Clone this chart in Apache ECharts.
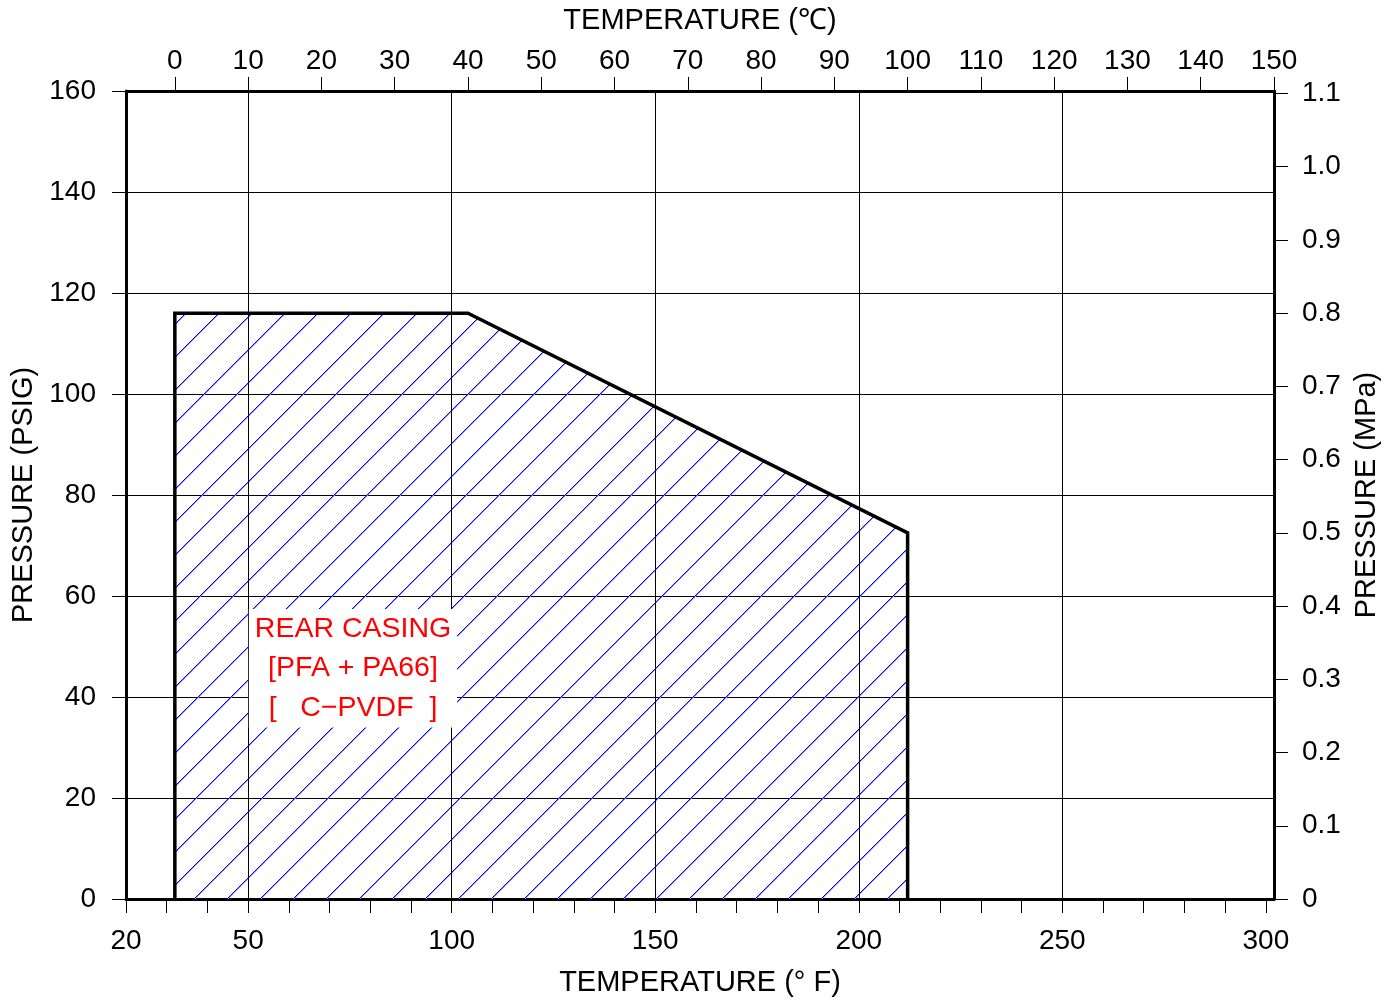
<!DOCTYPE html>
<html>
<head>
<meta charset="utf-8">
<script src="https://cdn.jsdelivr.net/npm/echarts@6/dist/echarts.min.js"></script>
<style>
html,body{margin:0;padding:0;background:#fff;}
#chart{width:1399px;height:1000px;}
</style>
</head>
<body>
<div id="chart"></div>
<script>
// ---- data ----
var tempF = [32, 32, 104, 212, 212];           // °F
var pressurePsi = [0, 116, 116, 72.5, 0];      // PSIG
var fTicks = [20,30,40,50,60,70,80,90,100,110,120,130,140,150,160,170,180,190,200,210,220,230,240,250,260,270,280,290,300];
var fLabels = [20,50,100,150,200,250,300];
var fGrid = [50,100,150,200,250];
var cTicks = [0,10,20,30,40,50,60,70,80,90,100,110,120,130,140,150];
var mpaTicks = [0,0.1,0.2,0.3,0.4,0.5,0.6,0.7,0.8,0.9,1.0,1.1];
var labelText = ['REAR CASING', '[PFA + PA66]', '[   C\u2212PVDF  ]'];

var PSI_PER_MPA = 145.0377;
var F_MIN = 20, F_MAX = 302, PSI_MAX = 160;

var FONT = '"Liberation Sans", Arial, sans-serif';
var FS = 28, NFS = 29;

// 45° hatch tile: one solid blue pixel plus a soft neighbour per row
function makeHatch(s, phase, color, soft) {
  var c = document.createElement('canvas');
  c.width = s; c.height = s;
  var ctx = c.getContext('2d');
  for (var y = 0; y < s; y++) {
    for (var x = 0; x < s; x++) {
      var m = (x + y) % s;
      if (m === phase) { ctx.fillStyle = color; ctx.fillRect(x, y, 1, 1); }
      else if (m === (phase + 1) % s) { ctx.fillStyle = soft; ctx.fillRect(x, y, 1, 1); }
    }
  }
  return c;
}
var hatch = makeHatch(33, 3, '#0000ff', '#8f8fff');

var chart = echarts.init(document.getElementById('chart'), null, {renderer: 'canvas'});
var polyData = tempF.map(function (f, i) { return [f, pressurePsi[i]]; });

var option = {
  animation: false,
  backgroundColor: '#fff',
  textStyle: {fontFamily: FONT},
  grid: {left: 126, right: 125, top: 91, bottom: 101, containLabel: false, outerBoundsMode: 'none'},
  xAxis: [
    {
      type: 'value', position: 'bottom', min: F_MIN, max: F_MAX,
      name: 'TEMPERATURE (\u00b0 F)', nameLocation: 'middle', nameGap: 69,
      nameTextStyle: {fontSize: NFS, color: '#000', fontFamily: FONT},
      axisLine: {show: true, onZero: false, lineStyle: {color: '#000', width: 3}},
      axisTick: {show: true, inside: false, length: 14, customValues: fTicks, lineStyle: {color: '#000', width: 1}},
      axisLabel: {show: true, customValues: fLabels, margin: 28, fontSize: FS, color: '#000', fontFamily: FONT},
      splitLine: {show: false}
    },
    {
      type: 'value', position: 'top', min: (F_MIN - 32) / 1.8, max: 150,
      name: 'TEMPERATURE (\u2103)', nameLocation: 'middle', nameGap: 56,
      nameTextStyle: {fontSize: NFS, color: '#000', fontFamily: FONT},
      axisLine: {show: true, onZero: false, lineStyle: {color: '#000', width: 3}},
      axisTick: {show: true, inside: false, length: 14, customValues: cTicks, lineStyle: {color: '#000', width: 1}},
      axisLabel: {show: true, customValues: cTicks, margin: 16, fontSize: FS, color: '#000', fontFamily: FONT},
      splitLine: {show: false}
    }
  ],
  yAxis: [
    {
      type: 'value', position: 'left', min: 0, max: PSI_MAX, interval: 20,
      name: 'PRESSURE (PSIG)', nameLocation: 'middle', nameGap: 88, nameRotate: 90,
      nameTextStyle: {fontSize: NFS, color: '#000', fontFamily: FONT},
      axisLine: {show: true, onZero: false, lineStyle: {color: '#000', width: 3}},
      axisTick: {show: true, inside: false, length: 14, lineStyle: {color: '#000', width: 1}},
      axisLabel: {show: true, margin: 30, fontSize: FS, color: '#000', fontFamily: FONT},
      splitLine: {show: true, lineStyle: {color: '#000', width: 1}}
    },
    {
      type: 'value', position: 'right', min: 0, max: PSI_MAX / PSI_PER_MPA,
      name: 'PRESSURE (MPa)', nameLocation: 'middle', nameGap: 78, nameRotate: 90,
      nameTextStyle: {fontSize: NFS, color: '#000', fontFamily: FONT},
      axisLine: {show: true, onZero: false, lineStyle: {color: '#000', width: 3}},
      axisTick: {show: true, inside: false, length: 14, customValues: mpaTicks, lineStyle: {color: '#000', width: 1}},
      axisLabel: {show: true, customValues: mpaTicks, margin: 28, fontSize: FS, color: '#000', fontFamily: FONT,
        formatter: function (v) { return v === 0 ? '0' : v.toFixed(1); }},
      splitLine: {show: false}
    }
  ],
  series: [
    {
      type: 'line', xAxisIndex: 0, yAxisIndex: 0,
      data: polyData, symbol: 'none', silent: true,
      lineStyle: {color: '#000', width: 3.5, join: 'miter'},
      areaStyle: {color: {image: hatch, repeat: 'repeat'}, opacity: 1},
      markLine: {
        silent: true, symbol: 'none', label: {show: false},
        lineStyle: {color: '#000', width: 1, type: 'solid'},
        data: fGrid.map(function (v) { return {xAxis: v}; })
      },
      z: 3
    }
  ],
  graphic: [
    {
      type: 'text', z: 100,
      style: {
        x: 353, y: 609,
        text: labelText.join('\n'),
        fill: '#ff0000',
        font: '28.5px ' + FONT,
        align: 'center',
        verticalAlign: 'top',
        lineHeight: 39.5,
        backgroundColor: '#fff',
        padding: [0, 6, 0, 6]
      }
    }
  ]
};
chart.setOption(option);
</script>
</body>
</html>
